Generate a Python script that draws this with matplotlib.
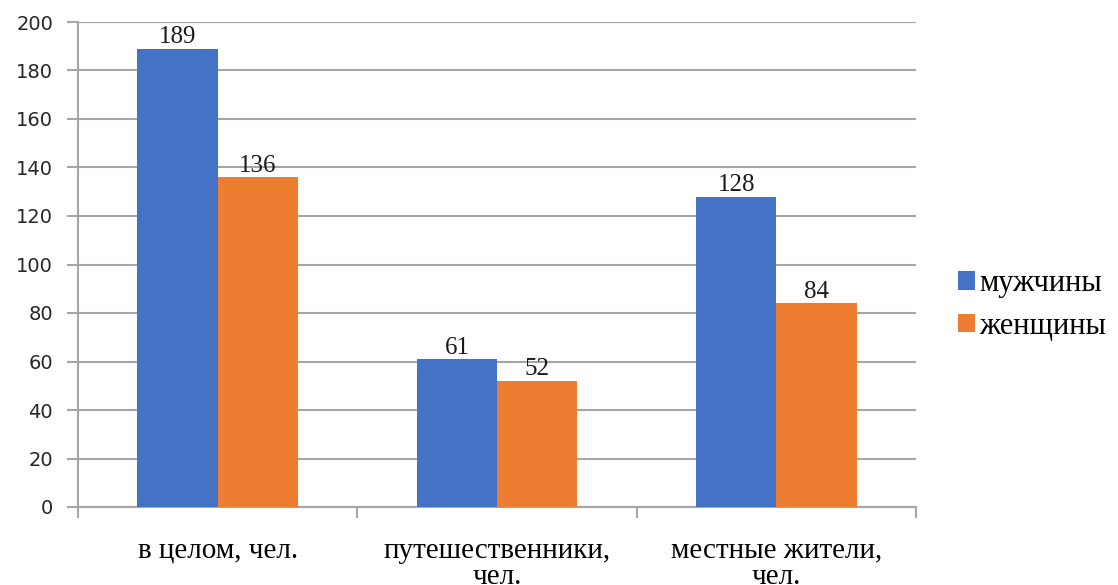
import numpy as np
import matplotlib.pyplot as plt

categories = ['в целом, чел.', 'путешественники,\nчел.', 'местные жители,\nчел.']
men = [189, 61, 128]
women = [136, 52, 84]
series_names = ['мужчины', 'женщины']
yticks = list(range(0, 201, 20))

blue = '#4472C4'
orange = '#ED7D31'
grid_c = '#A6A6A6'
serif = 'Liberation Serif'

fig = plt.figure(figsize=(11.18, 5.85), dpi=100)
ax = fig.add_axes([78 / 1118, 1 - 507 / 585, (916 - 78) / 1118, (507 - 22) / 585])

x = np.arange(len(categories))
w = 0.287
b1 = ax.bar(x - w / 2, men, w, color=blue, label=series_names[0], zorder=3)
b2 = ax.bar(x + w / 2, women, w, color=orange, label=series_names[1], zorder=3)

for bars in (b1, b2):
    for r in bars:
        ax.text(r.get_x() + r.get_width() / 2, r.get_height() + 0.2, str(int(r.get_height())),
                ha='center', va='bottom', fontsize=18, family=serif, color='#1a1a1a')

ax.set_xlim(-0.5, 2.5)
ax.set_ylim(0, 200)
ax.set_yticks(yticks)
ax.yaxis.grid(True, color=grid_c, linewidth=1.5, zorder=0)
ax.set_axisbelow(True)

ax.set_xticks(x)
ax.set_xticklabels(categories, family=serif, fontsize=21, linespacing=1.0)
ax.tick_params(axis='x', length=0, pad=22)
ax.set_xticks([-0.5, 0.5, 1.5, 2.5], minor=True)
ax.tick_params(axis='x', which='minor', length=8, width=1.5, color=grid_c)
ax.tick_params(axis='y', length=8, width=1.5, color=grid_c, labelsize=14, pad=10)
for t in ax.get_yticklabels():
    t.set_family('DejaVu Sans')
    t.set_color('#262626')

for s in ['top', 'right']:
    ax.spines[s].set_visible(False)
for s in ['left', 'bottom']:
    ax.spines[s].set_color(grid_c)
    ax.spines[s].set_linewidth(1.5)

fig.legend(handles=[b1, b2], labels=series_names, loc='center left',
           bbox_to_anchor=(958 / 1118, 1 - 305 / 585), frameon=False,
           prop={'family': serif, 'size': 22}, handlelength=0.55, handleheight=0.55,
           handletextpad=0.15, labelspacing=0.45, borderpad=0, borderaxespad=0)

fig.savefig('out.png', dpi=100)
